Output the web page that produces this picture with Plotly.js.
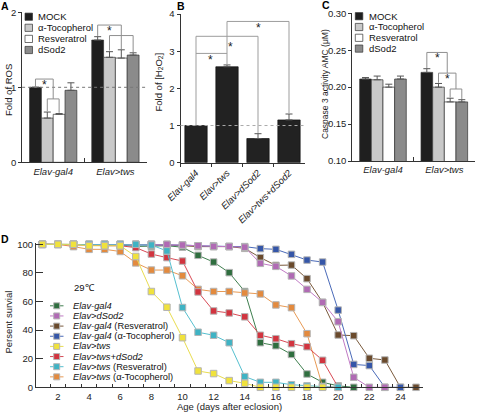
<!DOCTYPE html>
<html><head><meta charset="utf-8">
<script src="https://cdn.plot.ly/plotly-3.0.1.min.js"></script>
<style>html,body{margin:0;padding:0;background:#fff}#g{width:477px;height:412px}</style>
</head><body><div id="g"></div>
<script>
// ---------- DATA ----------
const groupsAC = ['Elav-gal4', 'Elav>tws'];
const treatNames = ['MOCK', 'α-Tocopherol', 'Resveratrol', 'dSod2'];
// Panel A: fold of ROS
const rosMock = [1.00, 1.63], rosMockErr = [0.00, 0.045];
const rosToc  = [0.59, 1.40], rosTocErr  = [0.08, 0.075];
const rosRes  = [0.64, 1.39], rosResErr  = [0.01, 0.11];
const rosSod  = [0.96, 1.43], rosSodErr  = [0.10, 0.03];
// Panel B: fold of H2O2
const groupsB = ['Elav-gal4', 'Elav>tws', 'Elav>dSod2', 'Elav>tws+dSod2'];
const h2o2 = [1.00, 2.58, 0.65, 1.15];
const h2o2Err = [0.00, 0.05, 0.13, 0.16];
// Panel C: caspase 3 activity
const casMock = [0.211, 0.220], casMockErr = [0.002, 0.005];
const casToc  = [0.210, 0.200], casTocErr  = [0.005, 0.005];
const casRes  = [0.200, 0.180], casResErr  = [0.004, 0.005];
const casSod  = [0.211, 0.180], casSodErr  = [0.004, 0.003];
// Panel D: survival (%), days after eclosion
const days = [1,2,3,4,5,6,7,8,9,10,11,12,13,14,15,16,17,18,19,20,21,22,23,24,25];
const survGal4    = [100,100,100,100,100,99.5,98.5,98.5,99,98,92.3,87.6,80.2,67,31.2,29.1,23,9.3,3.5,1,0,null,null,null,null];
const survSod2    = [100,100,100,100,100,100,100,100,100,99.5,99,98.5,98.5,98,86.7,84.6,77.9,68.5,59.4,45.9,7,0,0,null,null];
const survGal4Res = [100,100,100,100,100,100,100,100,99.5,99,98.4,98.4,98.4,97.2,90.7,85.3,85.5,76,59.4,36.6,36.1,20.3,19.1,0,0];
const survGal4Toc = [100,100,100,100,100,100,100,100,100,99.5,99,99,98.5,98.4,97,96.5,93,89,87.6,54,16,15.2,0,0,null];
const survTws     = [100,100,100,99,99,99,91.5,67,56,34.7,11.4,9.6,4.7,2.8,0,0,0,0,0,null,null,null,null,null,null];
const survTwsSod2 = [100,100,100,99.5,99,99,97.7,93.2,90.7,88.3,66.7,53.4,52,49.3,36.4,34,30.5,28.4,18.9,0,null,null,null,null,null];
const survTwsRes  = [100,100,100,100,100,100,100,99.5,95.4,55.8,38.5,36.4,31.2,7.5,3.5,3.5,1.8,1,0.5,0,null,null,null,null,null];
const survTwsToc  = [100,100,98.4,96.5,96.5,95,87,82,82,78,68.5,67,67,66,65.3,57.6,55.7,37.5,0.5,0,null,null,null,null,null];
const survNames = ['<i>Elav-gal4</i>', '<i>Elav>dSod2</i>', '<i>Elav-gal4</i> (Resveratrol)', '<i>Elav-gal4</i> (α-Tocopherol)',
                   '<i>Elav>tws</i>', '<i>Elav>tws+dSod2</i>', '<i>Elav>tws</i> (Resveratrol)', '<i>Elav>tws</i> (α-Tocopherol)'];

// ---------- STYLE ----------
const W = 477, H = 412;
const FONT = 'Liberation Sans, Arial, sans-serif';
const barColors = ['#1f1f1f', '#c9c9c9', '#ffffff', '#8b8b8b'];
const survColors = ['#2f6e3f', '#b06ab4', '#6a4a2c', '#3556a8', '#f0e23c', '#d2343f', '#3fb3c4', '#e38a3e'];
const survLine   = ['#3f7f4f', '#c07ac4', '#7a5a3c', '#4a6ab8', '#e8dc50', '#d84a55', '#55bfcf', '#e89a55'];
const px = x => x / W, py = y => 1 - y / H;
const BARGAP = 0.24, BW = (1 - BARGAP) / 4;
const off = k => (k - 1.5) * BW;

const traces = [];
function errY(a) { return {type:'data', array:a, arrayminus:a.map(()=>0), symmetric:false, color:'#555', thickness:1, width:3.5}; }
function addGroup(vals, errs, xa, ya) {
  vals.forEach((v, k) => traces.push({type:'bar', x: groupsAC, y: v, xaxis: xa, yaxis: ya, name: treatNames[k],
    showlegend:false, marker:{color: barColors[k], line:{color:'#333', width:0.7}}, error_y: errY(errs[k])}));
}
addGroup([rosMock, rosToc, rosRes, rosSod], [rosMockErr, rosTocErr, rosResErr, rosSodErr], 'x', 'y');
traces.push({type:'bar', x: groupsB, y: h2o2, xaxis:'x2', yaxis:'y2', width:0.72, showlegend:false,
  marker:{color:'#222', line:{color:'#111', width:0.7}}, error_y: errY(h2o2Err)});
addGroup([casMock, casToc, casRes, casSod], [casMockErr, casTocErr, casResErr, casSodErr], 'x3', 'y3');

const survAll = [survGal4, survSod2, survGal4Res, survGal4Toc, survTws, survTwsSod2, survTwsRes, survTwsToc];
const drawOrder = [0, 2, 3, 1, 7, 5, 6, 4];
drawOrder.forEach(i => traces.push({type:'scatter', mode:'lines+markers', x: days, y: survAll[i], xaxis:'x4', yaxis:'y4',
  name: survNames[i], showlegend:false, cliponaxis:false,
  line:{color: survLine[i], width:1}, marker:{symbol:'square', size:6.5, color: survColors[i], line:{color:'#b5b5b5', width:1}}}));

// ---------- SHAPES / ANNOTATIONS ----------
const shapes = [], ann = [];
const GRAY = '#8f8f8f';
function path(xr, yr, pts, color) {
  shapes.push({type:'path', xref:xr, yref:yr, path: 'M' + pts.map(p => p[0] + ',' + p[1]).join(' L'),
    line:{color: color || GRAY, width:1}});
}
function star(xr, yr, x, y) {
  ann.push({xref:xr, yref:yr, x:x, y:y, text:'*', showarrow:false, font:{size:12, color:'#222', family:FONT}, yanchor:'middle', yshift:-3});
}
// dotted reference lines
shapes.push({type:'line', xref:'x domain', yref:'y', x0:0, x1:1, y0:1, y1:1, line:{color:'#777', width:1, dash:'dot'}});
shapes.push({type:'line', xref:'x2 domain', yref:'y2', x0:0, x1:1, y0:1, y1:1, line:{color:'#aaa', width:1, dash:'dot'}});
// Panel A brackets
path('x','y', [[off(0),1.0],[off(0),1.11],[0,1.11],[0,0.845]]);
path('x','y', [[off(1),0.68],[off(1),0.845],[off(2),0.845],[off(2),0.66]]);
star('x','y', off(0)/2, 1.07);
path('x','y', [[1+off(0),1.685],[1+off(0),1.83],[1+off(2),1.83],[1+off(2),1.69]]);
path('x','y', [[1+off(1),1.49],[1+off(1),1.69],[1+off(3),1.69],[1+off(3),1.47]]);
path('x','y', [[1+off(2),1.69],[1+off(2),1.51]]);
star('x','y', 1+(off(0)+off(2))/2, 1.79);
// Panel B brackets
path('x2','y2', [[0,1.0],[0,3.4],[2,3.4],[2,0.8]], '#9d9d9d');
path('x2','y2', [[1,2.64],[1,3.8],[3,3.8],[3,1.33]], '#9d9d9d');
path('x2','y2', [[0,2.94],[1,2.94]], '#9d9d9d');
star('x2','y2', 0.47, 2.83); star('x2','y2', 1.12, 3.18); star('x2','y2', 2.02, 3.70);
// Panel C brackets
const c3m = 1 + (off(2)+off(3))/2, c2m = (1+off(1)+c3m)/2;
path('x3','y3', [[1+off(2),0.186],[1+off(2),0.1975],[1+off(3),0.1975],[1+off(3),0.184]]);
path('x3','y3', [[1+off(1),0.206],[1+off(1),0.219],[c3m,0.219],[c3m,0.1975]]);
path('x3','y3', [[1+off(0),0.226],[1+off(0),0.247],[c2m,0.247],[c2m,0.219]]);
star('x3','y3', (1+off(0)+c2m)/2, 0.243);
star('x3','y3', (1+off(1)+c3m)/2, 0.215);

// manual legends A and C
function barLegend(x0, y0, dy, textX) {
  treatNames.forEach((n, k) => {
    const y = y0 + k*dy;
    shapes.push({type:'rect', xref:'paper', yref:'paper', x0:px(x0), x1:px(x0+7.5), y0:py(y-3.6), y1:py(y+3.6),
      fillcolor: barColors[k], line:{color:'#333', width:0.7}});
    ann.push({xref:'paper', yref:'paper', x:px(textX), y:py(y), text:n, showarrow:false, xanchor:'left', yanchor:'middle',
      font:{size:9.5, color:'#111', family:FONT}});
  });
}
barLegend(25, 16.7, 11.1, 35.5);
barLegend(355.3, 16.2, 10.8, 366.5);

// manual legend D
survNames.forEach((n, i) => {
  const y = 305.8 + i*10.15;
  shapes.push({type:'line', xref:'paper', yref:'paper', x0:px(50), x1:px(63.5), y0:py(y), y1:py(y), line:{color: survLine[i], width:1}});
  shapes.push({type:'rect', xref:'paper', yref:'paper', x0:px(53.7), x1:px(59.7), y0:py(y-3), y1:py(y+3),
    fillcolor: survColors[i], line:{color:'#b5b5b5', width:1}});
  ann.push({xref:'paper', yref:'paper', x:px(71), y:py(y), text:n, showarrow:false, xanchor:'left', yanchor:'middle',
    font:{size:9.3, color:'#111', family:FONT}});
});
ann.push({xref:'paper', yref:'paper', x:px(72), y:py(287.5), text:'29℃', showarrow:false, xanchor:'left', yanchor:'middle',
  font:{size:9.5, color:'#111', family:FONT}});

// panel letters
[['A',5,6],['B',181,6],['C',326,5],['D',5,239]].forEach(([t,x,y]) =>
  ann.push({xref:'paper', yref:'paper', x:px(x), y:py(y), text:'<b>'+t+'</b>', showarrow:false, xanchor:'center', yanchor:'middle',
    borderpad:0, font:{size:10.5, color:'#000', family:FONT}}));
// axis titles
function yTitle(t, x, y, s) {
  ann.push({xref:'paper', yref:'paper', x:px(x), y:py(y), text:t, showarrow:false, textangle:-90, xanchor:'center', yanchor:'middle',
    borderpad:0, font:{size:s || 9.5, color:'#222', family:FONT}});
}
yTitle('Fold of ROS', 8, 90);
yTitle('Fold of [H<sub>2</sub>O<sub>2</sub>]', 158.5, 82);
yTitle('Caspase 3 activity AMC (μM)', 325, 84, 8.5);
yTitle('Persent survial', 7.5, 322);
ann.push({xref:'paper', yref:'paper', x:px(229.5), y:py(406), text:'Age (days after eclosion)', showarrow:false,
  xanchor:'center', yanchor:'middle', font:{size:9.5, color:'#222', family:FONT}});

// ---------- LAYOUT ----------
const tf = {size:9.5, color:'#222', family:FONT};
const tfi = {size:9.5, color:'#222', family:FONT, style:'italic'};
const baseAx = {showline:true, linecolor:'#333', linewidth:1, showgrid:false, zeroline:false, fixedrange:true, tickcolor:'#333'};
const layout = {
  width: W, height: H, margin:{l:0, r:0, t:0, b:0}, paper_bgcolor:'#fff', plot_bgcolor:'rgba(0,0,0,0)',
  barmode:'group', bargap: BARGAP, bargroupgap: 0, showlegend:false, font:{family:FONT},
  xaxis: Object.assign({}, baseAx, {domain:[px(22.1), px(146.5)], anchor:'y', type:'category', ticks:'inside', tickson:'boundaries',
    ticklen:4, tickfont: tfi}),
  yaxis: Object.assign({}, baseAx, {domain:[py(162.3), py(12.3)], anchor:'x', range:[0,2], tickvals:[0,1,2], ticks:'outside', ticklen:3, tickfont: tf}),
  xaxis2: Object.assign({}, baseAx, {domain:[px(180.5), px(304.5)], anchor:'y2', type:'category', ticks:'outside', tickson:'boundaries',
    ticklen:3, tickangle:-45, tickfont: tfi}),
  yaxis2: Object.assign({}, baseAx, {domain:[py(162.7), py(14)], anchor:'x2', range:[0,4], tickvals:[0,1,2,3,4], ticks:'outside', ticklen:3, tickfont: tf}),
  xaxis3: Object.assign({}, baseAx, {domain:[px(352.3), px(475)], anchor:'y3', type:'category', ticks:'inside', tickson:'boundaries',
    ticklen:4, tickfont: tfi}),
  yaxis3: Object.assign({}, baseAx, {domain:[py(161), py(13.3)], anchor:'x3', range:[0.10,0.30], tickvals:[0.10,0.15,0.20,0.25,0.30],
    tickformat:'.2f', ticks:'outside', ticklen:3, tickfont: tf}),
  xaxis4: Object.assign({}, baseAx, {domain:[px(36), px(422.7)], anchor:'y4', range:[0.59, 25.43], tickmode:'linear', tick0:0, dtick:2,
    ticks:'', tickfont: tf, minor:{tick0:0.5, dtick:1, ticks:'inside', ticklen:3, tickcolor:'#333', showgrid:false}}),
  yaxis4: Object.assign({}, baseAx, {domain:[py(387.3), py(242.9)], anchor:'x4', range:[0,101], tickvals:[0,20,40,60,80,100],
    ticks:'inside', ticklen:7, tickfont: tf}),
  shapes: shapes, annotations: ann
};
Plotly.newPlot('g', traces, layout, {staticPlot:true, displayModeBar:false});
</script></body></html>
